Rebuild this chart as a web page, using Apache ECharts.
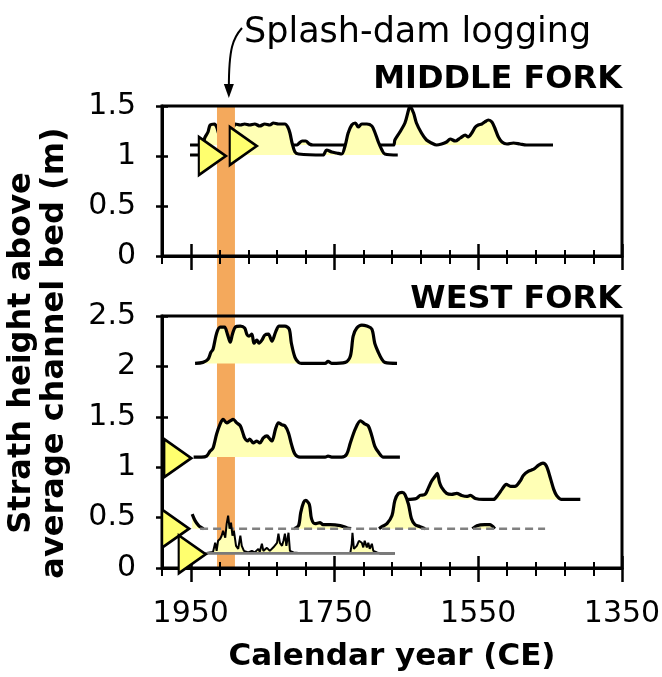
<!DOCTYPE html>
<html><head><meta charset="utf-8">
<script src="https://cdn.jsdelivr.net/npm/echarts@6/dist/echarts.min.js"></script>
<style>html,body{margin:0;padding:0;background:#fff}#c{width:662px;height:677px}</style>
</head><body><div id="c"></div>
<script>
// ---------- axis ticks ----------
const xMin = 1350, xMax = 1990;
const majorYears = [1950, 1750, 1550, 1350];
const minorYears = [1990, 1910, 1870, 1830, 1790, 1710, 1670, 1630, 1590, 1510, 1470, 1430, 1390];
const yTicksMiddle = [0, 0.5, 1, 1.5];
const yTicksWest = [0, 0.5, 1, 1.5, 2, 2.5];

// ---------- splash-dam logging period ----------
const splashDam = [[1913.5, 1888.5]];
const arrowYear = 1897;

// ---------- MIDDLE FORK ----------
const mfUpperBase = 1.11;
const mfUpper = [[1951,1.11],[1935,1.11],[1930,1.19],[1926,1.24],[1923,1.31],[1917,1.32],[1914,1.29],[1910,1.2],[1904,1.13],[1900,1.2],[1896,1.25],[1880,1.25],[1860,1.26],[1840,1.25],[1822,1.26],[1815,1.22],[1812,1.16],[1809,1.11],[1802,1.11],[1799,1.13],[1795,1.15],[1790,1.15],[1785,1.12],[1780,1.11],[1700,1.11],[1668,1.11],[1666,1.16],[1659,1.24],[1652,1.33],[1647,1.46],[1645,1.50],[1640,1.43],[1636,1.33],[1629,1.23],[1622,1.16],[1615,1.13],[1608,1.11],[1601,1.12],[1594,1.14],[1589,1.17],[1582,1.15],[1575,1.18],[1568,1.21],[1564,1.19],[1559,1.23],[1554,1.29],[1550,1.31],[1545,1.32],[1541,1.34],[1536,1.36],[1531,1.34],[1527,1.28],[1522,1.19],[1517,1.14],[1510,1.12],[1501,1.13],[1492,1.12],[1483,1.11],[1446,1.11]];
const mfLowerBase = 1.01;
const mfLower = [[1951,1.01],[1903,1.01],[1900,1.15],[1898,1.26],[1895,1.30],[1891,1.29],[1888,1.32],[1881,1.31],[1875,1.32],[1868,1.31],[1861,1.32],[1854,1.30],[1847,1.32],[1840,1.31],[1835,1.33],[1828,1.32],[1819,1.32],[1815,1.29],[1812,1.23],[1809,1.13],[1805,1.04],[1800,1.02],[1766,1.01],[1761,1.06],[1754,1.04],[1747,1.03],[1740,1.02],[1735,1.11],[1731,1.23],[1726,1.31],[1721,1.33],[1717,1.29],[1712,1.32],[1705,1.32],[1698,1.30],[1694,1.24],[1689,1.14],[1684,1.06],[1680,1.02],[1662,1.01]];
const mfMarkers = [[1920, 1.0], [1877, 1.1]];

// ---------- WEST FORK ----------
const wf1Base = 2.03;
const wf1 = [[1944,2.03],[1933,2.04],[1926,2.07],[1922,2.14],[1919,2.17],[1914,2.33],[1909,2.39],[1903,2.39],[1899,2.32],[1895,2.24],[1892,2.32],[1888,2.39],[1881,2.40],[1875,2.38],[1872,2.32],[1869,2.30],[1865,2.32],[1862,2.23],[1858,2.26],[1855,2.23],[1851,2.26],[1847,2.31],[1842,2.32],[1837,2.25],[1832,2.34],[1827,2.40],[1819,2.40],[1813,2.37],[1810,2.23],[1805,2.09],[1800,2.04],[1796,2.03],[1763,2.03],[1759,2.05],[1754,2.03],[1735,2.04],[1728,2.10],[1724,2.30],[1719,2.38],[1712,2.41],[1705,2.40],[1698,2.37],[1694,2.23],[1689,2.14],[1684,2.07],[1680,2.04],[1663,2.03]];
const wf2Base = 1.1;
const wf2 = [[1946,1.1],[1935,1.1],[1928,1.11],[1923,1.16],[1919,1.19],[1914,1.33],[1909,1.43],[1905,1.475],[1900,1.44],[1895,1.46],[1891,1.475],[1886,1.44],[1881,1.41],[1877,1.33],[1875,1.29],[1871,1.26],[1868,1.28],[1863,1.24],[1858,1.26],[1854,1.24],[1849,1.29],[1844,1.31],[1840,1.28],[1837,1.26],[1832,1.38],[1828,1.44],[1823,1.42],[1819,1.41],[1814,1.34],[1810,1.23],[1805,1.13],[1798,1.1],[1763,1.1],[1759,1.11],[1754,1.1],[1740,1.1],[1733,1.13],[1728,1.24],[1721,1.38],[1714,1.46],[1708,1.43],[1703,1.41],[1698,1.31],[1694,1.21],[1689,1.15],[1682,1.1],[1659,1.1]];
const wf3Base = 0.68;
const wf3 = [[1649,0.68],[1636,0.69],[1631,0.72],[1624,0.73],[1619,0.80],[1615,0.86],[1610,0.91],[1607,0.94],[1604,0.85],[1601,0.80],[1594,0.74],[1587,0.73],[1580,0.74],[1573,0.72],[1566,0.71],[1561,0.72],[1554,0.69],[1543,0.68],[1529,0.68],[1522,0.73],[1517,0.78],[1511,0.83],[1505,0.81],[1499,0.81],[1492,0.86],[1487,0.92],[1480,0.96],[1473,0.98],[1466,1.02],[1460,1.04],[1455,1.01],[1450,0.90],[1445,0.78],[1441,0.72],[1434,0.68],[1408,0.68]];
const wf4Base = 0.39;
const wf4Span = [1937, 1457];
const wf4 = [[1948,0.535],[1944,0.47],[1939,0.42],[1935,0.40],[1932,0.39],[1930,null],[1806,0.39],[1800,0.42],[1797,0.55],[1793,0.65],[1790,0.67],[1785,0.63],[1782,0.49],[1777,0.44],[1770,0.45],[1766,0.43],[1756,0.43],[1742,0.42],[1733,0.40],[1727,0.39],[1700,null],[1688,0.39],[1684,0.41],[1677,0.44],[1670,0.52],[1666,0.67],[1661,0.74],[1656,0.75],[1652,0.73],[1647,0.63],[1643,0.49],[1638,0.43],[1631,0.41],[1624,0.39],[1600,null],[1558,0.39],[1552,0.42],[1541,0.43],[1534,0.43],[1527,0.39]];
const wf5Base = 0.145;
const wf5Span = [1932, 1666];
const wf5 = [[1932,0.145],[1928,0.15],[1919,0.16],[1916,0.25],[1914,0.17],[1912,0.27],[1909,0.29],[1907,0.32],[1905,0.37],[1902,0.30],[1900,0.44],[1898,0.52],[1896,0.39],[1894,0.45],[1892,0.32],[1890,0.37],[1887,0.22],[1884,0.19],[1881,0.32],[1879,0.22],[1876,0.17],[1870,0.155],[1865,0.17],[1861,0.155],[1856,0.19],[1854,0.16],[1851,0.24],[1849,0.17],[1844,0.20],[1840,0.17],[1835,0.205],[1830,0.25],[1828,0.34],[1826,0.25],[1823,0.22],[1821,0.27],[1819,0.34],[1817,0.22],[1814,0.35],[1812,0.17],[1807,0.155],[1800,0.15],[1728,0.15],[1726,0.24],[1725,0.35],[1723,0.19],[1719,0.22],[1716,0.27],[1712,0.25],[1710,0.205],[1708,0.27],[1705,0.205],[1703,0.25],[1701,0.19],[1698,0.24],[1696,0.17],[1691,0.155],[1687,0.145],[1666,0.145]];
const wfMarkers = [[1968, 1.09], [1971, 0.39], [1948, 0.136]];

// ---------- styles ----------
const FONT = 'DejaVu Sans';
const FILL = '#FFFFB5';
const TRI = '#FFFF6E';
const ORANGE = '#F4A95C';
const plainNum = function (v) { return String(v); };

function xAxes(grid, withLabels) {
  const base = {gridIndex: grid, type: 'value', min: xMin, max: xMax, inverse: true, position: 'bottom', splitLine: {show: false}, z: 4};
  return [
    Object.assign({}, base, {axisLine: {show: true, lineStyle: {color: '#000', width: 3}}, axisTick: {show: false},
      axisLabel: withLabels ? {show: true, customValues: majorYears, formatter: plainNum, fontSize: 30, color: '#000', fontFamily: FONT, margin: 31} : {show: false}}),
    Object.assign({}, base, {offset: -6, axisLine: {show: false}, axisTick: {show: true, customValues: minorYears, length: 14, lineStyle: {color: '#000', width: 2}}, axisLabel: {show: false}}),
    Object.assign({}, base, {offset: -12, axisLine: {show: false}, axisTick: {show: true, customValues: majorYears, length: 26, lineStyle: {color: '#000', width: 2.5}}, axisLabel: {show: false}})
  ];
}
function yAxes(grid, max, ticks) {
  const base = {gridIndex: grid, type: 'value', min: 0, max: max, interval: 0.5, position: 'left', splitLine: {show: false}, z: 4};
  return [
    Object.assign({}, base, {axisLine: {show: true, lineStyle: {color: '#000', width: 3}}, axisTick: {show: false},
      axisLabel: {show: true, customValues: ticks, formatter: plainNum, fontSize: 30, color: '#000', fontFamily: FONT, margin: 26}}),
    Object.assign({}, base, {offset: -6, axisLine: {show: false}, axisTick: {show: true, customValues: ticks, length: 12, lineStyle: {color: '#000', width: 2.5}}, axisLabel: {show: false}})
  ];
}
function density(data, base, xi, yi, width, smooth, z) {
  return {type: 'line', xAxisIndex: xi, yAxisIndex: yi, data: data, symbol: 'none', smooth: smooth, z: z, silent: true,
    connectNulls: false, lineStyle: {color: '#000', width: width, opacity: 1}, areaStyle: {color: FILL, opacity: 1, origin: base}};
}
function baseline(span, base, xi, yi, style, z) {
  return {type: 'line', xAxisIndex: xi, yAxisIndex: yi, data: [[span[0], base], [span[1], base]], symbol: 'none', z: z, silent: true, lineStyle: style};
}
function markers(data, xi, yi) {
  return {type: 'scatter', xAxisIndex: xi, yAxisIndex: yi, data: data, symbol: 'triangle', symbolSize: [38, 27], symbolRotate: -90, z: 6, silent: true,
    itemStyle: {color: TRI, borderColor: '#000', borderWidth: 2.5, opacity: 1}};
}
function band(xi, yi, z) {
  return {type: 'custom', xAxisIndex: xi, yAxisIndex: yi, data: splashDam, z: z, silent: true,
    renderItem: function (params, api) {
      const p0 = api.coord([api.value(0), 1]);
      const p1 = api.coord([api.value(1), 0]);
      return {type: 'rect', shape: {x: p0[0], y: p0[1], width: p1[0] - p0[0], height: p1[1] - p0[1]}, style: {fill: ORANGE}};
    }};
}

const chart = echarts.init(document.getElementById('c'), null, {renderer: 'canvas'});
const gridCommon = {left: 162, width: 460, outerBoundsMode: 'none', containLabel: false};
const titleStyle = {fontSize: 32, fontWeight: 'bold', fontFamily: FONT, color: '#000'};
const option = {
  animation: false,
  backgroundColor: '#fff',
  title: [
    {text: 'MIDDLE FORK', right: 40, top: 64, padding: 0, textStyle: titleStyle},
    {text: 'WEST FORK', right: 40, top: 284, padding: 0, textStyle: titleStyle}
  ],
  grid: [
    Object.assign({top: 106, height: 150, show: true, borderColor: '#000', borderWidth: 3, z: 4}, gridCommon),
    Object.assign({top: 316, height: 252, show: true, borderColor: '#000', borderWidth: 3, z: 4}, gridCommon),
    Object.assign({top: 106, height: 164}, gridCommon),
    Object.assign({top: 270, height: 298}, gridCommon)
  ],
  xAxis: [].concat(
    xAxes(0, false),
    xAxes(1, true),
    [{gridIndex: 2, type: 'value', min: xMin, max: xMax, inverse: true, show: false},
     {gridIndex: 3, type: 'value', min: xMin, max: xMax, inverse: true, show: false}]
  ),
  yAxis: [].concat(
    yAxes(0, 1.5, yTicksMiddle),
    yAxes(1, 2.5, yTicksWest),
    [{gridIndex: 2, type: 'value', min: 0, max: 1, show: false},
     {gridIndex: 3, type: 'value', min: 0, max: 1, show: false}]
  ),
  series: [
    band(6, 4, 3),
    band(7, 5, 1),
    density(mfUpper, mfUpperBase, 0, 0, 3.2, 0.3, 2),
    density(mfLower, mfLowerBase, 0, 0, 3.2, 0.3, 2.3),
    markers(mfMarkers, 0, 0),
    density(wf1, wf1Base, 3, 2, 3.2, 0.3, 2),
    density(wf2, wf2Base, 3, 2, 3.2, 0.3, 2),
    density(wf3, wf3Base, 3, 2, 3.2, 0.3, 2.1),
    density(wf4, wf4Base, 3, 2, 3.2, 0.3, 2.2),
    baseline(wf4Span, wf4Base, 3, 2, {color: '#808080', width: 2.5, type: [8, 5]}, 2.3),
    density(wf5, wf5Base, 3, 2, 2, false, 2.4),
    baseline(wf5Span, wf5Base, 3, 2, {color: '#7a7a7a', width: 2.8}, 2.5),
    markers(wfMarkers, 3, 2)
  ]
};
chart.setOption(option);

const ax = chart.convertToPixel({xAxisIndex: 0}, arrowYear);
chart.setOption({
  graphic: [
    {type: 'text', x: 38, y: 353, rotation: Math.PI / 2,
      style: {text: 'Strath height above\naverage channel bed (m)', fontSize: 32, fontWeight: 'bold', fontFamily: FONT, lineHeight: 33, align: 'center', verticalAlign: 'middle', fill: '#000'}},
    {type: 'text', x: 392, y: 657,
      style: {text: 'Calendar year (CE)', fontSize: 31, fontWeight: 'bold', fontFamily: FONT, align: 'center', verticalAlign: 'middle', fill: '#000'}},
    {type: 'text', x: 244, y: 33,
      style: {text: 'Splash-dam logging', fontSize: 35, fontFamily: FONT, align: 'left', verticalAlign: 'middle', fill: '#000'}},
    {type: 'bezierCurve', shape: {x1: 242, y1: 28, cpx1: 233, cpy1: 38, cpx2: ax, cpy2: 48, x2: ax, y2: 88},
      style: {stroke: '#000', lineWidth: 2, fill: null}},
    {type: 'polygon', shape: {points: [[ax - 5, 84], [ax + 5, 84], [ax, 98]]}, style: {fill: '#000'}}
  ]
});
</script>
</body></html>
